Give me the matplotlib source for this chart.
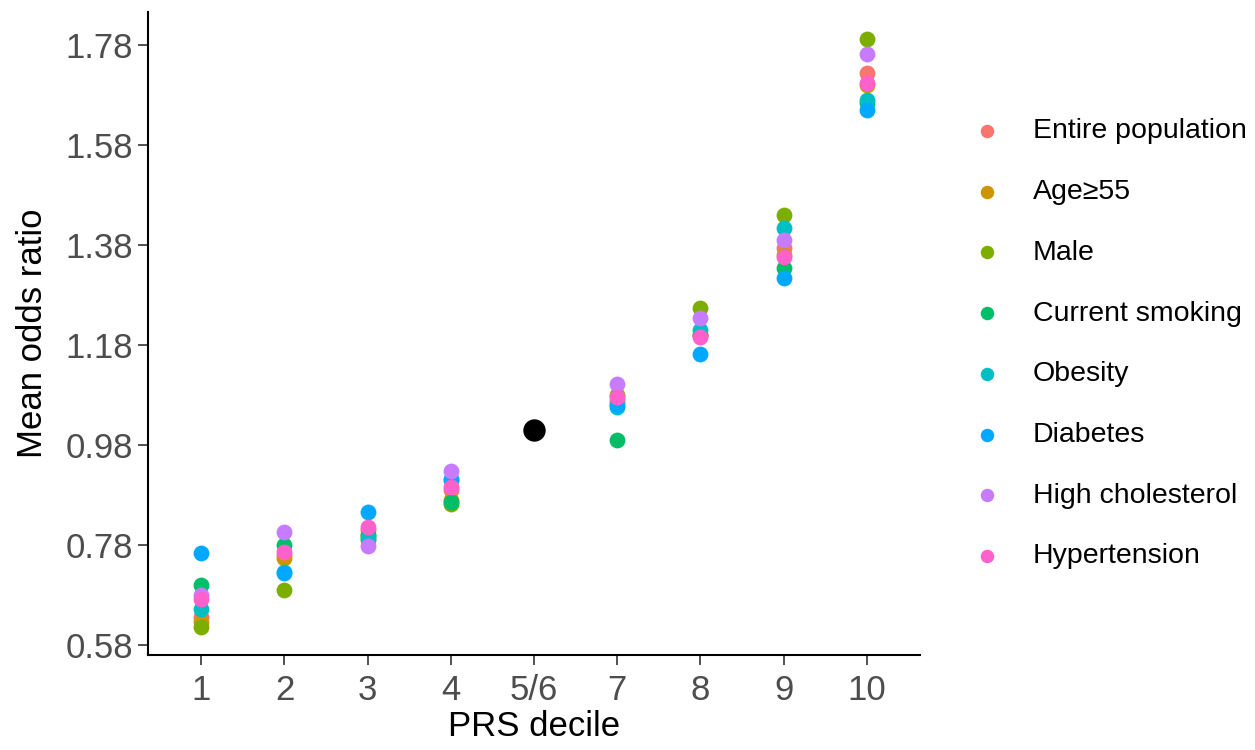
import matplotlib.pyplot as plt
import numpy as np

plt.rcParams['font.family'] = ['Liberation Sans', 'DejaVu Sans']

# PRS deciles (5/6 is the reference group)
deciles = ["1", "2", "3", "4", "5/6", "7", "8", "9", "10"]
reference_or = 1.01

groups = ["Entire population", "Age\u226555", "Male", "Current smoking",
          "Obesity", "Diabetes", "High cholesterol", "Hypertension"]
colors = ["#F8766D", "#CD9600", "#7CAE00", "#00BE67",
          "#00BFC4", "#00A9FF", "#C77CFF", "#FF61CC"]

# mean odds ratio per group, deciles 1,2,3,4,7,8,9,10
entire = [0.635, 0.760, 0.810, 0.890, 1.070, 1.200, 1.374, 1.725]
age55 = [0.625, 0.755, 0.800, 0.870, 1.065, 1.200, 1.360, 1.700]
male = [0.615, 0.690, 0.790, 0.862, 1.080, 1.255, 1.440, 1.792]
smoking = [0.700, 0.780, 0.800, 0.866, 0.990, 1.200, 1.334, 1.664]
obesity = [0.652, 0.727, 0.795, 0.912, 1.057, 1.210, 1.414, 1.670]
diabetes = [0.765, 0.725, 0.846, 0.910, 1.060, 1.162, 1.314, 1.650]
cholesterol = [0.680, 0.806, 0.779, 0.928, 1.103, 1.234, 1.390, 1.763]
hypertension = [0.672, 0.766, 0.817, 0.896, 1.076, 1.196, 1.357, 1.705]
series = [entire, age55, male, smoking, obesity, diabetes, cholesterol, hypertension]

yticks = [0.58, 0.78, 0.98, 1.18, 1.38, 1.58, 1.78]

fig = plt.figure(figsize=(12.55, 7.5), dpi=100)
ax = fig.add_axes([0.118, 0.1267, 0.615, 0.857])

x_other = [i for i, d in enumerate(deciles) if d != "5/6"]
for name, vals, col in zip(groups, series, colors):
    ax.scatter(x_other, vals, s=130, color=col, label=name, linewidths=0, zorder=3)

ax.scatter([deciles.index("5/6")], [reference_or], s=260, color="black",
           linewidths=0, zorder=4)

ax.set_xlim(-0.64, len(deciles) - 1 + 0.64)
ax.set_ylim(0.56, 1.846)
ax.set_xticks(range(len(deciles)))
ax.set_xticklabels(deciles)
ax.set_yticks(yticks)
ax.set_yticklabels([f"{v:.2f}" for v in yticks])

for s in ["top", "right"]:
    ax.spines[s].set_visible(False)
for s in ["left", "bottom"]:
    ax.spines[s].set_linewidth(1.5)
    ax.spines[s].set_color("black")

ax.tick_params(axis="both", labelsize=25, labelcolor="#4D4D4D",
               color="#333333", length=7, width=1.2, pad=4)
ax.tick_params(axis="x", pad=7)
ax.set_xlabel("PRS decile", fontsize=25, labelpad=2)
ax.set_ylabel("Mean odds ratio", fontsize=25, labelpad=12)

ax.legend(loc="center left", bbox_to_anchor=(1.035, 0.484), frameon=False,
          fontsize=20.5, labelspacing=1.22, handletextpad=0.62, markerscale=0.85,
          borderaxespad=0)

fig.savefig("out.png", dpi=100)
